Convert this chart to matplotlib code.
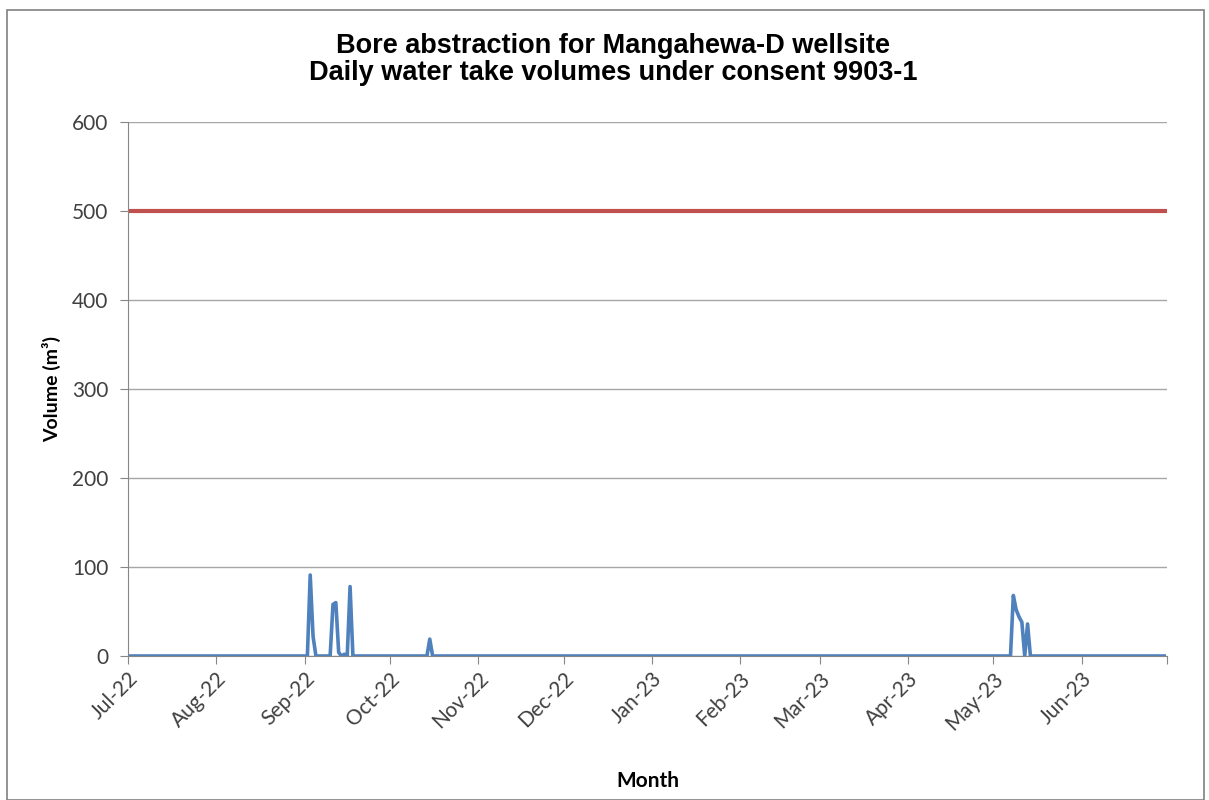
import numpy as np
import pandas as pd
import matplotlib
matplotlib.use("Agg")
import matplotlib.pyplot as plt
import matplotlib.dates as mdates
from matplotlib.patches import Rectangle

# daily take volumes, m3 (zero except the listed days)
start_date = "2022-07-01"
end_date = "2023-07-01"
spike_dates = ["2022-09-03", "2022-09-04",
               "2022-09-11", "2022-09-12", "2022-09-13", "2022-09-15",
               "2022-09-17", "2022-10-15",
               "2023-05-08", "2023-05-09", "2023-05-10", "2023-05-11",
               "2023-05-13"]
spike_values = [91, 22,
                58, 60, 4, 2,
                78, 19,
                68, 52, 44, 38,
                36]
consent_limit = 500

days = pd.date_range(start_date, "2023-06-30", freq="D")
volume = pd.Series(0.0, index=days)
volume.loc[pd.to_datetime(spike_dates)] = spike_values

tick_font = ["Lato", "DejaVu Sans"]

fig = plt.figure(figsize=(12.09, 8), dpi=100)
ax = fig.add_axes([0.1059, 0.18, 0.8594, 0.6675])

x0, x1 = pd.Timestamp(start_date), pd.Timestamp(end_date)
ax.plot([x0, x1], [consent_limit, consent_limit], color="#C0504D", lw=3, solid_capstyle="butt")
ax.plot(volume.index, volume.values, color="#4F81BD", lw=2.6, solid_joinstyle="round")

ax.set_xlim(x0, x1)
ax.set_ylim(0, 600)
ax.set_yticks(range(0, 601, 100))
ax.grid(axis="y", color="#A6A6A6", lw=1)
ax.set_axisbelow(True)

ax.xaxis.set_major_locator(mdates.MonthLocator())
fmt = mdates.DateFormatter("%b-%y")
ax.xaxis.set_major_formatter(lambda v, pos: "" if mdates.num2date(v).replace(tzinfo=None) >= x1 else fmt(v))
ax.tick_params(axis="x", length=6, color="#868686", labelsize=15, labelcolor="#404040", pad=3)
ax.tick_params(axis="y", length=6, color="#868686", labelsize=15, labelcolor="#404040", pad=8)
for lbl in ax.get_xticklabels():
    lbl.set_rotation(45)
    lbl.set_ha("right")
    lbl.set_rotation_mode("anchor")
    lbl.set_family(tick_font)
for lbl in ax.get_yticklabels():
    lbl.set_family(tick_font)

for side in ["top", "right"]:
    ax.spines[side].set_visible(False)
for side in ["left", "bottom"]:
    ax.spines[side].set_color("#868686")

ax.set_ylabel("Volume (m³)", fontsize=14, fontweight="bold", labelpad=8, family=tick_font)
ax.set_xlabel("Month", fontsize=15, fontweight="bold", labelpad=27, family=tick_font)
fig.text(0.507, 0.926, "Bore abstraction for Mangahewa-D wellsite\nDaily water take volumes under consent 9903-1",
         ha="center", va="center", fontsize=19.5, fontweight="bold", linespacing=1.05,
         family=["Liberation Sans", "DejaVu Sans"])

fig.patches.append(Rectangle((0.006, 0.0), 0.99, 0.988, transform=fig.transFigure,
                             fill=False, edgecolor="#808080", lw=1.2))

fig.savefig("out.png", dpi=100)
